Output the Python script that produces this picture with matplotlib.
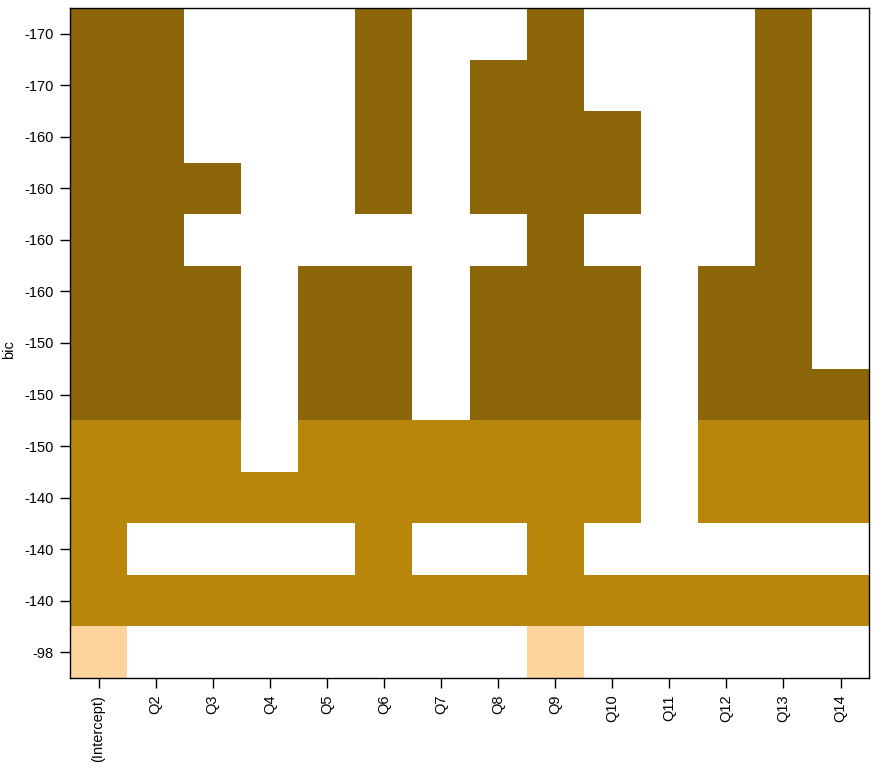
import numpy as np
import matplotlib
matplotlib.use("Agg")
import matplotlib.pyplot as plt
from matplotlib.colors import ListedColormap

plt.rcParams["font.family"] = ["Liberation Sans", "DejaVu Sans"]

# 变量名（列）
variables = ["(Intercept)", "Q2", "Q3", "Q4", "Q5", "Q6", "Q7", "Q8",
             "Q9", "Q10", "Q11", "Q12", "Q13", "Q14"]
# 每行的 bic 标签（从上到下）
bic_labels = ["-170", "-170", "-160", "-160", "-160", "-160", "-150",
              "-150", "-150", "-140", "-140", "-140", "-98"]
# 每行颜色等级：3=深，2=中，1=浅
row_level = [3, 3, 3, 3, 3, 3, 3, 3, 2, 2, 2, 2, 1]
# 变量是否入选（从上到下）
included = [
    [1, 1, 0, 0, 0, 1, 0, 0, 1, 0, 0, 0, 1, 0],
    [1, 1, 0, 0, 0, 1, 0, 1, 1, 0, 0, 0, 1, 0],
    [1, 1, 0, 0, 0, 1, 0, 1, 1, 1, 0, 0, 1, 0],
    [1, 1, 1, 0, 0, 1, 0, 1, 1, 1, 0, 0, 1, 0],
    [1, 1, 0, 0, 0, 0, 0, 0, 1, 0, 0, 0, 1, 0],
    [1, 1, 1, 0, 1, 1, 0, 1, 1, 1, 0, 1, 1, 0],
    [1, 1, 1, 0, 1, 1, 0, 1, 1, 1, 0, 1, 1, 0],
    [1, 1, 1, 0, 1, 1, 0, 1, 1, 1, 0, 1, 1, 1],
    [1, 1, 1, 0, 1, 1, 1, 1, 1, 1, 0, 1, 1, 1],
    [1, 1, 1, 1, 1, 1, 1, 1, 1, 1, 0, 1, 1, 1],
    [1, 0, 0, 0, 0, 1, 0, 0, 1, 0, 0, 0, 0, 0],
    [1, 1, 1, 1, 1, 1, 1, 1, 1, 1, 1, 1, 1, 1],
    [1, 0, 0, 0, 0, 0, 0, 0, 1, 0, 0, 0, 0, 0],
]

colors = ["#FFFFFF", "#FFD39B", "#B8860B", "#8B6508"]

mat = np.array(included) * np.array(row_level)[:, None]
n_rows, n_cols = mat.shape

fig = plt.figure(figsize=(8.77, 7.70), dpi=100)
ax = fig.add_axes([0.0798, 0.1195, 0.9112, 0.8701])

ax.pcolormesh(np.arange(n_cols + 1), np.arange(n_rows + 1), mat[::-1],
              cmap=ListedColormap(colors), vmin=-0.5, vmax=3.5)
ax.set_xlim(0, n_cols)
ax.set_ylim(0, n_rows)

ax.set_xticks(np.arange(n_cols) + 0.5)
ax.set_xticklabels(variables, rotation=90, fontsize=10.5)
ax.set_yticks(np.arange(n_rows) + 0.5)
ax.set_yticklabels(bic_labels[::-1], fontsize=10.5)
ax.tick_params(direction="out", length=7, width=1, pad=5)

# y 轴标题放在图最左侧
fig.text(9 / 877, 0.5455, "bic", rotation=90, fontsize=10.5,
         ha="center", va="center")

for s in ax.spines.values():
    s.set_linewidth(1)

fig.savefig("out.png", dpi=100)
